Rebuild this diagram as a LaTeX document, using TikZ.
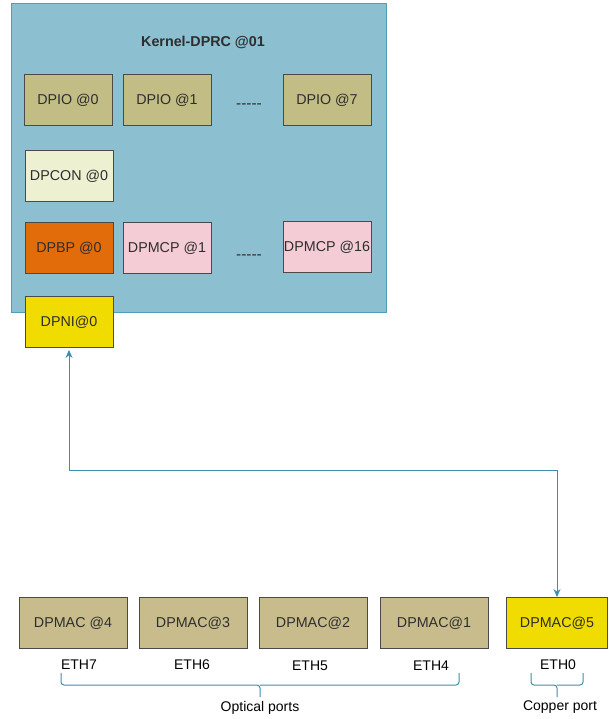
\documentclass[tikz,border=0pt]{standalone}
\usepackage{fontspec}
\setmainfont{Liberation Sans}
\usetikzlibrary{arrows.meta}

\definecolor{dprcfill}{HTML}{8CBFCF}
\definecolor{dprcline}{HTML}{4F9DBA}
\definecolor{boxline}{HTML}{4A4A4A}
\definecolor{textgray}{HTML}{2E2E2E}
\definecolor{iofill}{HTML}{C2BC85}
\definecolor{macfill}{HTML}{C8BC8C}
\definecolor{confill}{HTML}{EEF1D1}
\definecolor{bpfill}{HTML}{E36C0A}
\definecolor{mcpfill}{HTML}{F4CCD6}
\definecolor{nifill}{HTML}{F0DC00}
\definecolor{linkblue}{HTML}{3A8FB0}

\begin{document}
\begin{tikzpicture}[
    x=1pt, y=-1pt,
    >={Stealth[length=8pt,width=7pt]},
    box/.style={draw=boxline, line width=0.9pt, minimum width=88pt, minimum height=51pt,
        inner sep=1pt, font=\fontsize{14.3}{16}\selectfont, text=textgray},
    mac/.style={box, minimum width=108pt},
    port/.style={font=\fontsize{14}{16}\selectfont, text=black},
    dots/.style={font=\fontsize{15.5}{16}\selectfont, text=textgray},
    link/.style={<->, draw=linkblue, line width=0.9pt},
    bracket/.style={draw=linkblue, line width=1pt, rounded corners=3pt}
]
\useasboundingbox (0,0) rectangle (608,719);

% Kernel container
\draw[fill=dprcfill, draw=dprcline, line width=1pt] (11,4) rectangle (386,312);
\node[font=\bfseries\fontsize{14.3}{16}\selectfont, text=textgray] (title) at (203,42) {Kernel-DPRC @01};

% DPIO row
\node[box, fill=iofill] (io0) at (68,100) {DPIO @0};
\node[box, fill=iofill] (io1) at (167,100) {DPIO @1};
\node[dots] (iodots) at (249,106) {-{}-{}-{}-{}-};
\node[box, fill=iofill] (io7) at (327,100) {DPIO @7};

% DPCON
\node[box, fill=confill] (con0) at (69,176) {DPCON @0};

% DPBP and DPMCP row
\node[box, fill=bpfill] (bp0) at (69,248) {DPBP @0};
\node[box, fill=mcpfill] (mcp1) at (167,248) {DPMCP @1};
\node[dots] (mcpdots) at (249,257) {-{}-{}-{}-{}-};
\node[box, fill=mcpfill] (mcp16) at (327,247) {DPMCP @16};

% DPNI
\node[box, fill=nifill] (ni0) at (69,322) {DPNI@0};

% MAC row
\node[mac, fill=macfill] (mac4) at (73,623) {DPMAC @4};
\node[mac, fill=macfill] (mac3) at (193,623) {DPMAC@3};
\node[mac, fill=macfill] (mac2) at (313,623) {DPMAC@2};
\node[mac, fill=macfill] (mac1) at (434,623) {DPMAC@1};
\node[box, fill=nifill, minimum width=101pt] (mac5) at (557,623) {DPMAC@5};

% Port names
\node[port] (eth7) at (79,665) {ETH7};
\node[port] (eth6) at (192,665) {ETH6};
\node[port] (eth5) at (310,666) {ETH5};
\node[port] (eth4) at (431,666) {ETH4};
\node[port] (eth0) at (558,665) {ETH0};

% Link between DPNI and DPMAC
\draw[link] (ni0.south) ++(0,2) coordinate (nitip) -- (nitip |- 0,470) -| (mac5.north);

% Brackets
\draw[bracket] (61,673) -- (61,685) -- (260,685) -- (260,697);
\draw[bracket] (459,673) -- (459,685) -- (260,685);
\node[port] (optical) at (260,708) {Optical ports};
\draw[bracket] (531,673) -- (531,685) -- (557,685) -- (557,697);
\draw[bracket] (583,673) -- (583,685) -- (557,685);
\node[port] (copper) at (560,707) {Copper port};

\end{tikzpicture}
\end{document}
